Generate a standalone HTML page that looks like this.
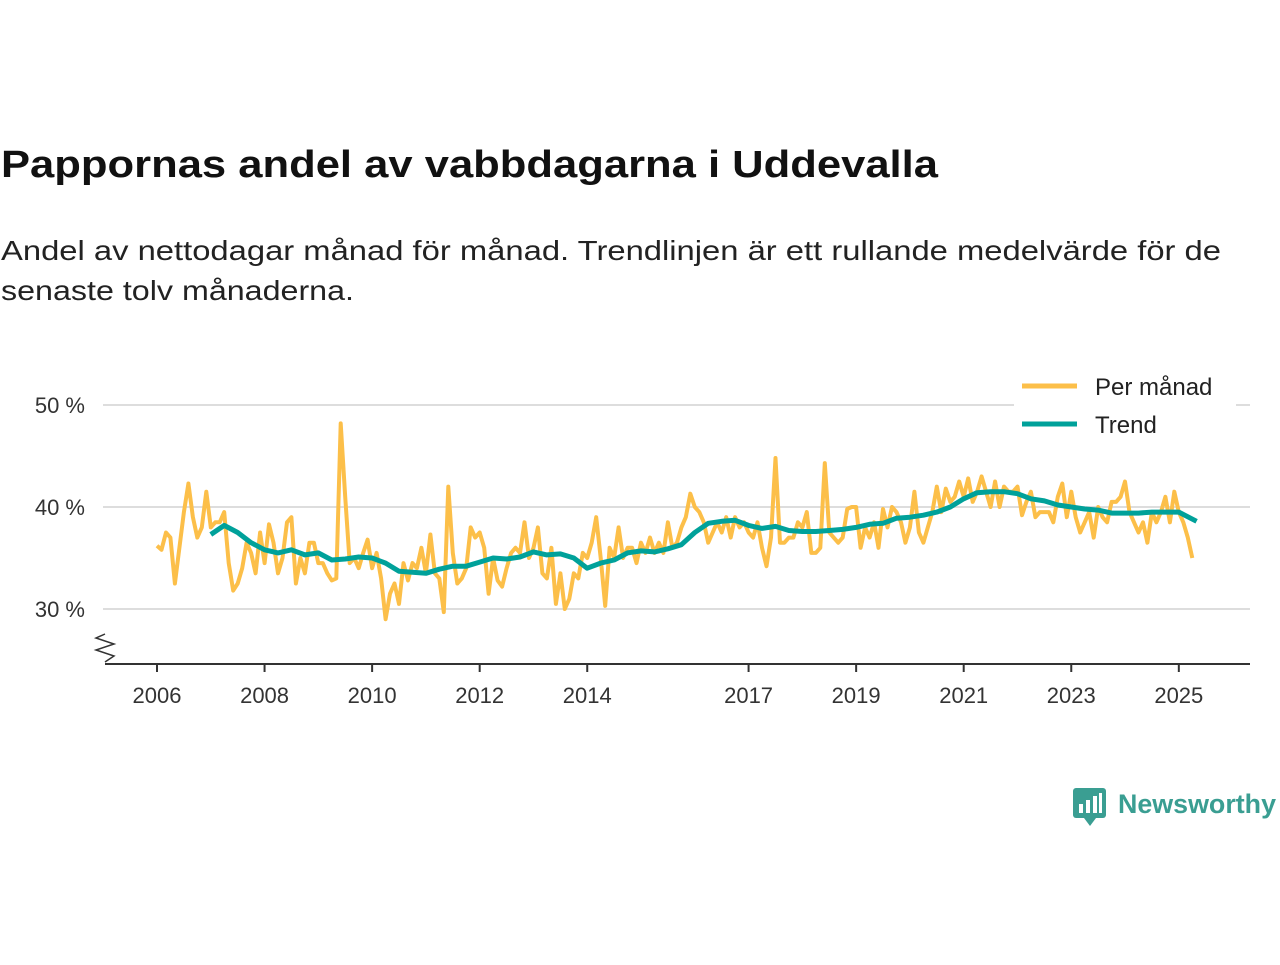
<!DOCTYPE html>
<html><head><meta charset="utf-8"><style>
body{margin:0;background:#fff;width:1280px;height:960px;overflow:hidden;font-family:"Liberation Sans",sans-serif}
</style></head><body>
<svg id="chart" width="1280" height="960" xmlns="http://www.w3.org/2000/svg" font-family="Liberation Sans, sans-serif">
<text x="1" y="177" font-size="38" font-weight="bold" fill="#111" textLength="937" lengthAdjust="spacingAndGlyphs">Pappornas andel av vabbdagarna i Uddevalla</text>
<text x="1" y="260" font-size="28" fill="#222" textLength="1220" lengthAdjust="spacingAndGlyphs">Andel av nettodagar månad för månad. Trendlinjen är ett rullande medelvärde för de</text>
<text x="1" y="300" font-size="28" fill="#222" textLength="353" lengthAdjust="spacingAndGlyphs">senaste tolv månaderna.</text>
<g id="grid"></g>
<g id="yaxis"></g>
<g id="xaxis"></g>
<path d="M105 634 L96 638 L114 644 L96 650 L114 656 L105 662" fill="none" stroke="#333" stroke-width="1.5"/>
<g id="series"></g>
<g>
<rect x="1014" y="366" width="222" height="76" fill="#fff"/>
<line x1="1022" y1="386" x2="1077" y2="386" stroke="#fcbf49" stroke-width="5"/>
<text x="1095" y="395" font-size="24" fill="#222">Per månad</text>
<line x1="1022" y1="424" x2="1077" y2="424" stroke="#00a19a" stroke-width="5"/>
<text x="1095" y="433" font-size="24" fill="#222">Trend</text>
</g>
<g>
<rect x="1073" y="788" width="33" height="30" rx="3" fill="#3a9e92"/>
<path d="M1084 818 L1090 826 L1096 818 Z" fill="#3a9e92"/>
<rect x="1079" y="804" width="4" height="9" fill="#fff"/><rect x="1086" y="800" width="4" height="13" fill="#fff"/><rect x="1093" y="796" width="4" height="17" fill="#fff"/><rect x="1099" y="793" width="3" height="20" fill="#fff"/>
<text x="1118" y="813" font-size="27" font-weight="bold" fill="#3a9e92" textLength="158" lengthAdjust="spacingAndGlyphs">Newsworthy</text>
</g>
</svg>
<script>
const yTicks=[30,40,50];
const yTickLabels=["30 %","40 %","50 %"];
const xTicks=[2006,2008,2010,2012,2014,2017,2019,2021,2023,2025];
const monthlyStart=2006;
const monthly=[
36.2,35.8,37.5,37.0,32.5,36,39.5,42.3,39,37,38,41.5,
38,38.5,38.5,39.5,34.5,31.8,32.5,34,36.5,35.5,33.5,37.5,
34.5,38.3,36.5,33.5,35,38.5,39.0,32.5,35,33.5,36.5,36.5,
34.5,34.5,33.5,32.8,33,48.2,41,34.5,35,34,35.5,36.8,
34.0,35.5,33.0,29.0,31.5,32.5,30.5,34.5,32.8,34.5,34,36,
33.5,37.3,33.5,33,29.7,42,35.5,32.5,33,34,38,37,
37.5,36,31.5,35,32.8,32.2,34,35.5,36,35.5,38.5,35,
36,38,33.5,33,36,30.5,33.5,30,31,33.5,33,35.5,
35,36.5,39,35,30.3,36,35,38,35,36,36,34.5,
36.5,35.5,37,35.5,36.5,35.5,38.5,36,36.5,38,39,41.3,
40,39.5,38.5,36.5,37.5,38.5,37.5,39,37,39,38,38.5,
37.5,37,38.5,36,34.2,37,44.8,36.5,36.5,37,37,38.5,
38,39.5,35.5,35.5,36,44.3,37.5,37,36.5,37,39.8,40,
40,36,38,37,38.5,36,39.8,38,40,39.5,38.5,36.5,
38,41.5,37.5,36.5,38,39.5,42,39.5,41.8,40.5,41,42.5,
41,42.8,40.5,41.5,43,41.5,40,42.5,40,42,41.5,41.5,
42,39.2,40.5,41.5,39,39.5,39.5,39.5,38.5,41,42.3,39,
41.5,39,37.5,38.5,39.5,37,40,39,38.5,40.5,40.5,41,
42.5,39.5,38.5,37.5,38.5,36.5,39.5,38.5,39.5,41,38.5,41.5,
39.5,38.5,37,35];
const trendDates=[2007,2007.25,2007.5,2007.75,2008,2008.25,2008.5,2008.75,2009,2009.25,2009.5,2009.75,2010,2010.25,2010.5,2010.75,2011,2011.25,2011.5,2011.75,2012,2012.25,2012.5,2012.75,2013,2013.25,2013.5,2013.75,2014,2014.25,2014.5,2014.75,2015,2015.25,2015.5,2015.75,2016,2016.25,2016.5,2016.75,2017,2017.25,2017.5,2017.75,2018,2018.25,2018.5,2018.75,2019,2019.25,2019.5,2019.75,2020,2020.25,2020.5,2020.75,2021,2021.25,2021.5,2021.75,2022,2022.25,2022.5,2022.75,2023,2023.25,2023.5,2023.75,2024,2024.25,2024.5,2024.75,2025,2025.33];
const trendValues=[37.3,38.2,37.5,36.5,35.8,35.5,35.8,35.3,35.5,34.8,34.9,35.1,35.0,34.5,33.7,33.6,33.5,33.9,34.2,34.2,34.6,35.0,34.9,35.1,35.6,35.3,35.4,35.0,34.0,34.5,34.8,35.5,35.7,35.6,35.9,36.3,37.5,38.4,38.6,38.7,38.2,37.9,38.1,37.7,37.6,37.6,37.7,37.8,38.0,38.3,38.4,38.9,39.0,39.2,39.5,40.0,40.8,41.4,41.5,41.5,41.3,40.8,40.6,40.2,40.0,39.8,39.7,39.4,39.4,39.4,39.5,39.5,39.5,38.6];
const NS="http://www.w3.org/2000/svg";
const X=t=>157+(t-2006)*53.78;
const Y=v=>405+(50-v)*10.2;
function mk(tag,attrs,parent){const e=document.createElementNS(NS,tag);for(const k in attrs)e.setAttribute(k,attrs[k]);parent.appendChild(e);return e;}
const grid=document.getElementById('grid'),ya=document.getElementById('yaxis'),xa=document.getElementById('xaxis'),se=document.getElementById('series');
yTicks.forEach((v,i)=>{
 const l=mk('line',{x1:103,x2:1250,y1:Y(v),y2:Y(v),stroke:'#ddd','stroke-width':2},grid);
 
 
 const t=mk('text',{x:85,y:Y(v)+8,'text-anchor':'end','font-size':22,fill:'#333'},ya);
 t.textContent=yTickLabels[i];
 
 
});
const ax=mk('line',{x1:105,x2:1250,y1:664,y2:664,stroke:'#333','stroke-width':2},xa);


xTicks.forEach(yr=>{
 const tk=mk('line',{x1:X(yr),x2:X(yr),y1:664,y2:672,stroke:'#333','stroke-width':2},xa);
 
 
 const t=mk('text',{x:X(yr),y:703,'text-anchor':'middle','font-size':22,fill:'#333'},xa);
 t.textContent=String(yr);
 
 
});
const mp=monthly.map((v,i)=>X(monthlyStart+i/12).toFixed(1)+','+Y(v).toFixed(1)).join(' ');
const m=mk('polyline',{points:mp,fill:'none',stroke:'#fcbf49','stroke-width':4,'stroke-linejoin':'round'},se);


const tp=trendValues.map((v,i)=>X(trendDates[i]).toFixed(1)+','+Y(v).toFixed(1)).join(' ');
const tr=mk('polyline',{points:tp,fill:'none',stroke:'#00a19a','stroke-width':5,'stroke-linejoin':'round'},se);


</script>
</body></html>
